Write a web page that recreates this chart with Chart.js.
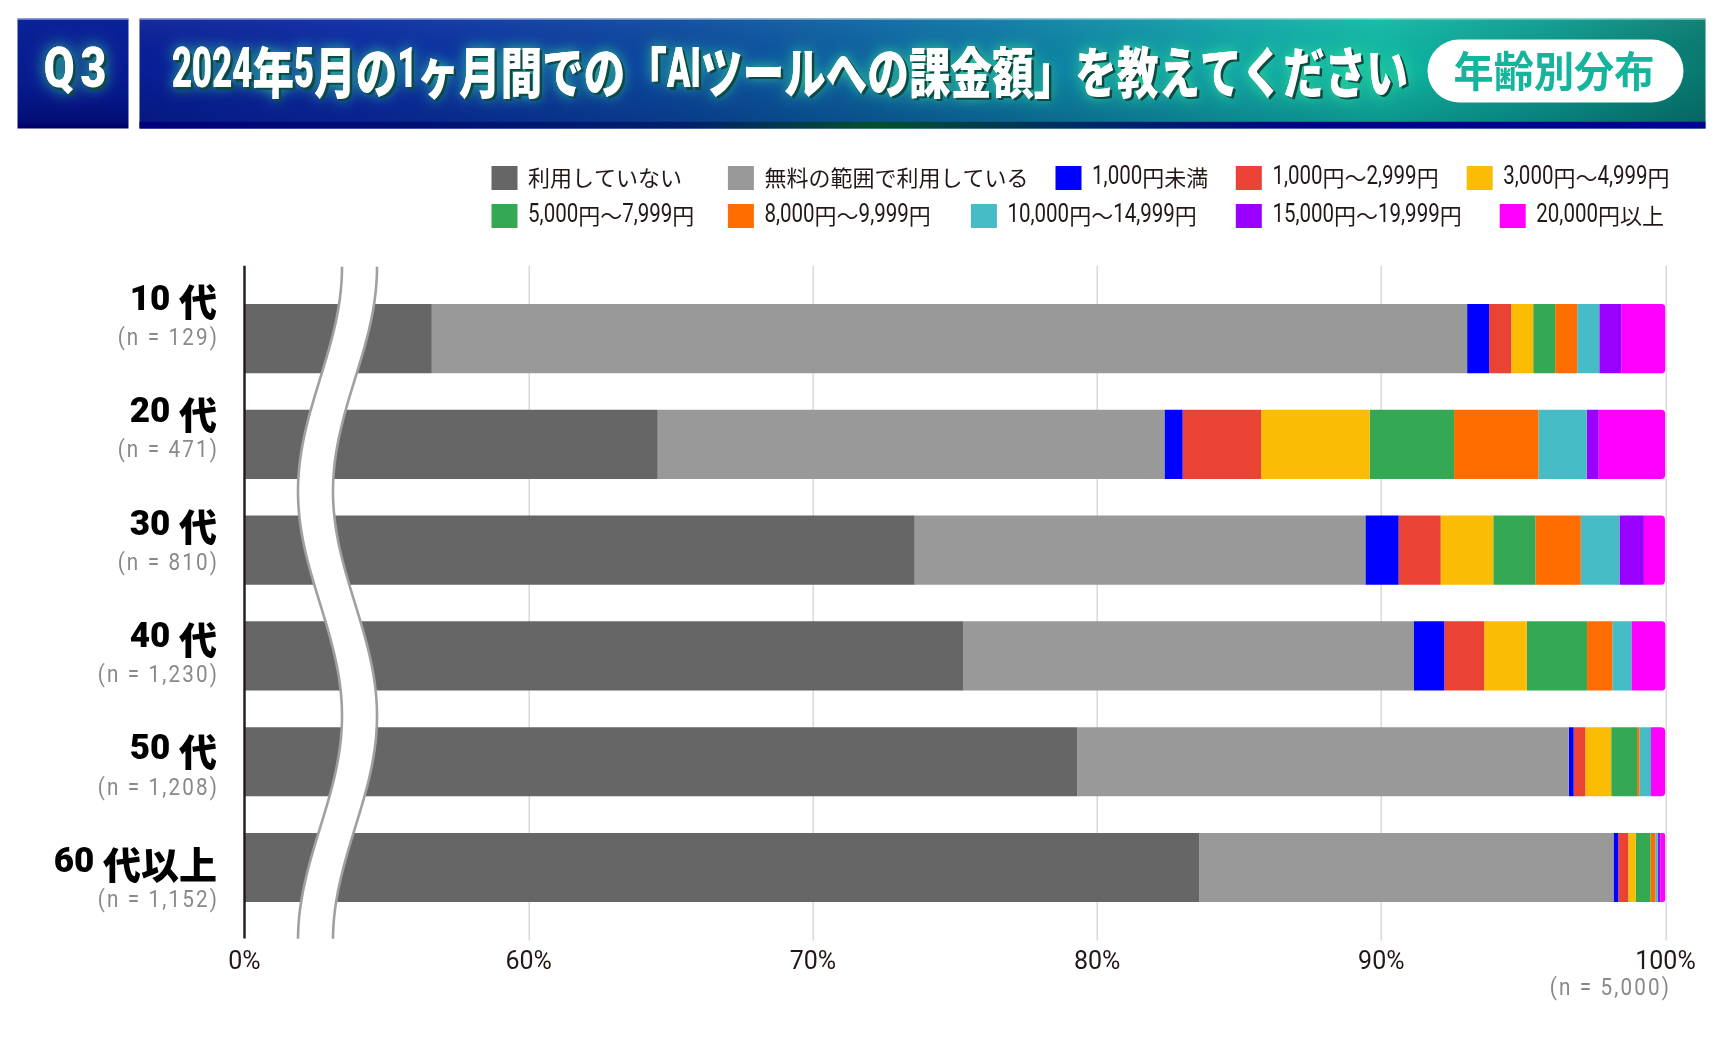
<!DOCTYPE html>
<html lang="ja">
<head>
<meta charset="utf-8">
<title>AIツールへの課金額 年齢別分布</title>
<script src="https://cdn.jsdelivr.net/npm/chart.js@4.4.1/dist/chart.umd.min.js"></script>
<style>
  html, body { margin: 0; padding: 0; background: #ffffff; }
  #wrap { position: relative; width: 1724px; height: 1055px; }
</style>
</head>
<body>
<div id="wrap"><canvas id="c"></canvas></div>
<script>
// ---------------- DATA ----------------
const titleText = '2024年5月の1ヶ月間での「AIツールへの課金額」を教えてください';
const questionNo = 'Q3';
const badgeText = '年齢別分布';
const categories = ['10 代', '20 代', '30 代', '40 代', '50 代', '60 代以上'];
const sampleSizes = ['(n = 129)', '(n = 471)', '(n = 810)', '(n = 1,230)', '(n = 1,208)', '(n = 1,152)'];
const totalSample = '(n = 5,000)';
const seriesNames = ['利用していない', '無料の範囲で利用している', '1,000円未満', '1,000円～2,999円', '3,000円～4,999円',
                     '5,000円～7,999円', '8,000円～9,999円', '10,000円～14,999円', '15,000円～19,999円', '20,000円以上'];
const notUsing  = [56.59, 64.54, 73.58, 75.29, 79.30, 83.59];
const freeTier  = [36.43, 17.83, 15.86, 15.86, 17.30, 14.58];
const under1000 = [0.775, 0.64, 1.17, 1.07, 0.17, 0.17];
const yen1000   = [0.775, 2.76, 1.48, 1.40, 0.41, 0.35];
const yen3000   = [0.775, 3.82, 1.85, 1.50, 0.91, 0.26];
const yen5000   = [0.775, 2.97, 1.48, 2.12, 0.91, 0.52];
const yen8000   = [0.775, 2.97, 1.60, 0.89, 0.08, 0.17];
const yen10000  = [0.775, 1.70, 1.36, 0.67, 0.41, 0.09];
const yen15000  = [0.775, 0.42, 0.86, 0.00, 0.00, 0.09];
const yen20000  = [1.55, 2.34, 0.74, 1.20, 0.50, 0.17];
const tickLabels = ['0%', '60%', '70%', '80%', '90%', '100%'];
// axis break: "0%" is shown where 50% sits
const axisMin = 50, axisMax = 100, axisStep = 10;

// ---------------- STYLE ----------------
const seriesColors = ['#666666', '#999999', '#0000ff', '#ea4335', '#fbbc04',
                      '#34a853', '#ff6d01', '#46bdc6', '#9900ff', '#ff00ff'];
const INK = '#231815';
const GREY_TXT = '#898989';
const legendLayout = [[491.5,178],[727.9,178],[1055.5,178],[1235.8,178],[1466.7,178],
                      [491.5,216],[727.9,216],[970.9,216],[1235.8,216],[1499.7,216]];

const seriesValues = [notUsing, freeTier, under1000, yen1000, yen3000, yen5000, yen8000, yen10000, yen15000, yen20000];

// ---------------- TEXT HELPERS ----------------
function isAscii(ch) { return ch.charCodeAt(0) < 0x2000; }
function splitRuns(text) {
  const out = [];
  for (const ch of text) {
    const a = isAscii(ch);
    if (out.length && out[out.length - 1].a === a) out[out.length - 1].t += ch;
    else out.push({ t: ch, a });
  }
  return out;
}
function measureRuns(ctx, text, st) {
  return splitRuns(text).map(r => {
    ctx.font = r.a ? st.af : st.cf;
    ctx.letterSpacing = r.a && st.als ? st.als : '0px';
    const raw = ctx.measureText(r.t).width;
    ctx.letterSpacing = '0px';
    return Object.assign(r, { raw });
  });
}
function drawMixed(ctx, text, x, y, st, align) {
  const rs = measureRuns(ctx, text, st);
  let asx = st.asx || 1, csx = st.csx || 1;
  if (st.fit) {
    const aw = rs.filter(r => r.a).reduce((s, r) => s + r.raw * asx, 0);
    const cw = rs.filter(r => !r.a).reduce((s, r) => s + r.raw, 0);
    csx = (st.fit - aw) / cw;
  }
  rs.forEach(r => { r.sx = r.a ? asx : csx; r.w = r.raw * r.sx; });
  const total = rs.reduce((s, r) => s + r.w, 0);
  let cx = align === 'right' ? x - total : align === 'center' ? x - total / 2 : x;
  ctx.save();
  ctx.fillStyle = st.color;
  ctx.textBaseline = 'middle';
  ctx.textAlign = 'left';
  for (const r of rs) {
    ctx.font = r.a ? st.af : st.cf;
    ctx.letterSpacing = r.a && st.als ? st.als : '0px';
    ctx.save();
    ctx.translate(cx, y + (r.a ? (st.ady || 0) : (st.cdy || 0)));
    ctx.scale(r.sx, 1);
    ctx.fillText(r.t, 0, 0);
    ctx.restore();
    cx += r.w;
  }
  ctx.letterSpacing = '0px';
  ctx.restore();
  return total;
}

// ---------------- DECOR PLUGIN ----------------
function drawHeader(ctx) {
  // Q box
  let g = ctx.createLinearGradient(0, 18, 0, 128);
  g.addColorStop(0, '#0a2398'); g.addColorStop(0.6, '#071a8e'); g.addColorStop(0.92, '#030f78'); g.addColorStop(1, '#000064');
  ctx.fillStyle = g; ctx.fillRect(17.5, 18.5, 111, 110);
  ctx.fillStyle = 'rgba(150,170,230,0.9)'; ctx.fillRect(17.5, 18.5, 111, 1.2);
  // title bar
  g = ctx.createLinearGradient(139.5, 0, 1705.5, 0);
  g.addColorStop(0, '#081e96'); g.addColorStop(0.14, '#0a2aa2'); g.addColorStop(0.35, '#0b4a9e');
  g.addColorStop(0.55, '#0c78a4'); g.addColorStop(0.70, '#0fa5a6'); g.addColorStop(0.79, '#10b8a4');
  g.addColorStop(0.90, '#0a9a8e'); g.addColorStop(1, '#087a70');
  ctx.fillStyle = g; ctx.fillRect(139.5, 18.5, 1566, 110);
  g = ctx.createLinearGradient(0, 18, 0, 122);
  g.addColorStop(0, 'rgba(255,255,255,0.06)'); g.addColorStop(0.5, 'rgba(0,0,0,0)'); g.addColorStop(1, 'rgba(0,0,40,0.18)');
  ctx.fillStyle = g; ctx.fillRect(139.5, 18.5, 1566, 104);
  g = ctx.createLinearGradient(139.5, 0, 1705.5, 0);
  g.addColorStop(0, '#00007a'); g.addColorStop(0.35, '#00206a'); g.addColorStop(0.47, '#05502e');
  g.addColorStop(0.6, '#002a66'); g.addColorStop(0.75, '#000088'); g.addColorStop(1, '#000096');
  ctx.fillStyle = g; ctx.fillRect(139.5, 121.8, 1566, 6.7);
  g = ctx.createLinearGradient(139.5, 0, 1705.5, 0);
  g.addColorStop(0, 'rgba(150,170,230,0.9)'); g.addColorStop(1, 'rgba(140,220,210,0.9)');
  ctx.fillStyle = g; ctx.fillRect(139.5, 18.5, 1566, 1.2);

  // Q3 text (glow + drop + white)
  const qst = { af: '900 56px Roboto, "Noto Sans CJK JP"', asx: 0.8, cf: '900 56px "Noto Sans CJK JP"', color: '#ffffff' };
  const qChars = [[questionNo[0], 59.2], [questionNo[1], 93.4]];
  const passes = [
    { dx: 0, dy: 0, color: '#ffffff', glow: true },
    { dx: 2.5, dy: 2.5, color: '#0c4a44', glow: false },
    { dx: 0, dy: 0, color: '#ffffff', glow: false }
  ];
  for (const p of passes) {
    ctx.save();
    if (p.glow) { ctx.shadowColor = 'rgba(60,235,150,0.95)'; ctx.shadowBlur = 16; }
    for (const [ch, cx] of qChars) drawMixed(ctx, ch, cx + p.dx, 73 + p.dy, Object.assign({}, qst, { color: p.color }), 'center');
    ctx.restore();
  }
  // Title text
  const tst = { af: '900 56px Roboto, "Noto Sans CJK JP"', asx: 0.62, cf: '900 55px "Noto Sans CJK JP"', fit: 1236, color: '#ffffff', ady: 1 };
  for (const p of passes) {
    ctx.save();
    if (p.glow) { ctx.shadowColor = 'rgba(60,235,150,0.85)'; ctx.shadowBlur = 14; }
    drawMixed(ctx, titleText, 172 + p.dx, 72 + p.dy, Object.assign({}, tst, { color: p.color }), 'left');
    ctx.restore();
  }
  // badge
  ctx.save();
  ctx.fillStyle = '#ffffff';
  ctx.beginPath();
  ctx.roundRect(1427.5, 39.5, 256, 63, 31.5);
  ctx.fill();
  ctx.restore();
  drawMixed(ctx, badgeText, 1554, 71, { af: 'bold 42px Roboto', cf: 'bold 42px "Noto Sans CJK JP"', fit: 201, color: '#15b49c' }, 'center');
}

const decorPlugin = {
  id: 'decor',
  beforeDraw(chart) {
    const ctx = chart.ctx;
    ctx.save();
    ctx.fillStyle = '#ffffff';
    ctx.fillRect(0, 0, chart.width, chart.height);
    drawHeader(ctx);
    ctx.restore();
  },
  beforeDatasetsDraw(chart) {
    const ctx = chart.ctx, xs = chart.scales.x, area = chart.chartArea;
    const top = area.top - 20, bottom = area.bottom + 20;
    ctx.save();
    ctx.strokeStyle = '#d9d9d9';
    ctx.lineWidth = 1.5;
    xs.ticks.forEach(t => {
      if (t.value === axisMin) return;
      const x = Math.round(xs.getPixelForValue(t.value)) + 0.25;
      ctx.beginPath(); ctx.moveTo(x, top); ctx.lineTo(x, bottom); ctx.stroke();
    });
    ctx.restore();
  },
  afterDatasetsDraw(chart) {
    const ctx = chart.ctx, xs = chart.scales.x, area = chart.chartArea;
    const top = area.top - 19, bottom = area.bottom + 20;
    // axis break wave
    const base = xs.left + 75.5, amp = 22, gap = 35, half = (bottom - top) / 3;
    const xl = y => base + amp * Math.cos(Math.PI * (y - top) / half);
    ctx.save();
    ctx.beginPath();
    for (let y = top; y <= bottom; y += 2) ctx.lineTo(xl(y), y);
    for (let y = bottom; y >= top; y -= 2) ctx.lineTo(xl(y) + gap, y);
    ctx.closePath();
    ctx.fillStyle = '#ffffff'; ctx.fill();
    ctx.strokeStyle = '#a0a0a0'; ctx.lineWidth = 2.6;
    for (const off of [0, gap]) {
      ctx.beginPath();
      for (let y = top; y <= bottom; y += 2) ctx.lineTo(xl(y) + off, y);
      ctx.stroke();
    }
    ctx.restore();
    // zero axis line
    ctx.save();
    const x0 = xs.getPixelForValue(axisMin);
    ctx.strokeStyle = INK; ctx.lineWidth = 2.4;
    ctx.beginPath(); ctx.moveTo(x0, top - 1); ctx.lineTo(x0, bottom - 2); ctx.stroke();
    ctx.restore();
    // category labels (spread over the extended plot height)
    const n = categories.length, step = (bottom - top + 1) / n;
    const mainSt = { af: '900 35px Roboto, "Noto Sans CJK JP"', cf: '900 38px "Noto Sans CJK JP"', color: '#000000', cdy: 1 };
    const subSt = { af: '24px Roboto', asx: 0.86, als: '2.5px', cf: '24px "Noto Sans CJK JP"', color: GREY_TXT, ady: 1 };
    categories.forEach((c, i) => {
      const cy = top + step * (i + 0.5);
      drawMixed(ctx, c, 217, cy - 22, mainSt, 'right');
      drawMixed(ctx, sampleSizes[i], 219, cy + 15, subSt, 'right');
    });
    // total sample
    drawMixed(ctx, totalSample, 1671, 988, subSt, 'right');
    // legend
    const legSt = { af: '25px Roboto', asx: 0.82, cf: '22px "Noto Sans CJK JP"', color: INK, ady: 0 };
    chart.data.datasets.forEach((ds, i) => {
      const [lx, ly] = legendLayout[i];
      ctx.save();
      ctx.fillStyle = ds.backgroundColor;
      ctx.fillRect(lx, ly - 12, 26, 24);
      ctx.restore();
      drawMixed(ctx, ds.label, lx + 36.6, ly, legSt, 'left');
    });
  }
};

// ---------------- CHART ----------------
const datasets = seriesNames.map((name, i) => ({
  label: name,
  data: seriesValues[i],
  backgroundColor: seriesColors[i],
  borderWidth: 0,
  borderRadius: 4,
  barPercentage: 0.654,
  categoryPercentage: 1.0,
  clip: 0
}));

new Chart(document.getElementById('c'), {
  type: 'bar',
  data: { labels: categories, datasets },
  options: {
    indexAxis: 'y',
    responsive: true,
    maintainAspectRatio: false,
    animation: false,
    devicePixelRatio: 1,
    layout: { padding: { left: 244.5, right: 58.5, top: 285.7, bottom: 64.6 } },
    plugins: { legend: { display: false }, tooltip: { enabled: false }, title: { display: false } },
    scales: {
      x: {
        type: 'linear', stacked: true, min: axisMin, max: axisMax,
        grid: { display: false, drawTicks: false },
        border: { display: false },
        ticks: {
          stepSize: axisStep, autoSkip: false, maxRotation: 0, padding: 27,
          color: INK, font: { family: 'Roboto', size: 25 },
          callback: (v, i) => tickLabels[i]
        },
        afterFit: s => { s.height = 70; }
      },
      y: { type: 'category', stacked: true, display: false }
    }
  },
  plugins: [decorPlugin]
});
</script>
</body>
</html>
